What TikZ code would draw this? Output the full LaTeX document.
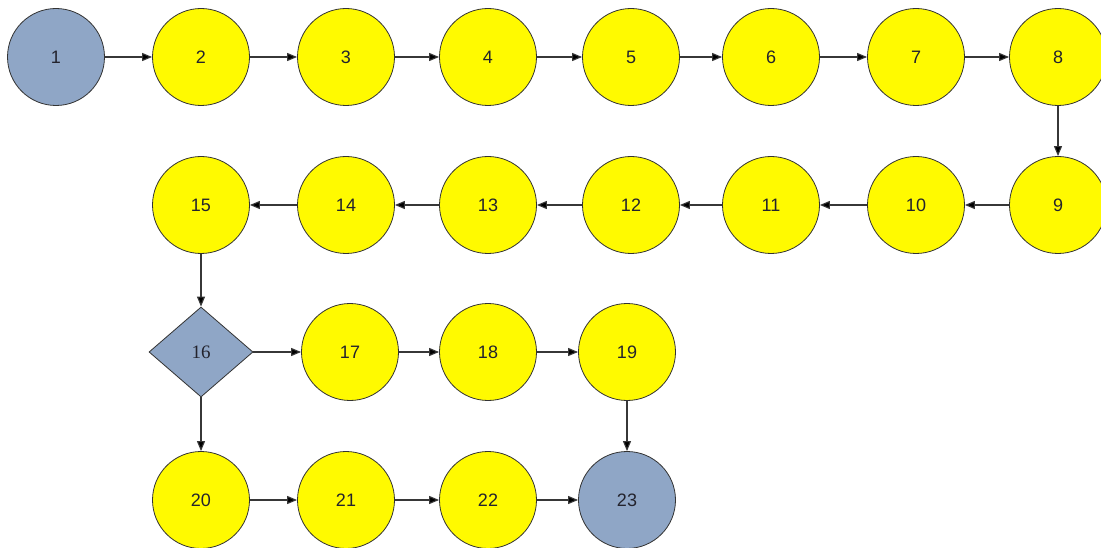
\documentclass[tikz,border=0pt]{standalone}
\usepackage{fontspec}
\setmainfont{Liberation Sans}
\newfontfamily\serifnum{Liberation Serif}
\usetikzlibrary{shapes.geometric,arrows.meta}
\definecolor{yel}{RGB}{255,250,0}
\definecolor{gblue}{RGB}{143,166,198}
\definecolor{linec}{RGB}{55,55,55}
\definecolor{txt}{RGB}{35,35,45}
\begin{document}
\begin{tikzpicture}[x=1pt,y=-1pt,
  yc/.style={circle,draw=black!80,line width=0.8pt,fill=yel,minimum size=97pt,inner sep=0pt,text=txt,font=\fontsize{18}{20}\selectfont},
  bc/.style={yc,fill=gblue},
  dm/.style={diamond,draw=black!80,line width=0.8pt,fill=gblue,minimum width=104pt,minimum height=90pt,inner sep=0pt,aspect=1.15,text=txt,font=\serifnum\fontsize{19}{21}\selectfont},
  ar/.style={draw=linec,line width=1.1pt,-{Stealth[length=10pt,width=8pt,inset=0pt,fill=black]}}]
\useasboundingbox (0,0) rectangle (1101,548);
\fill[white] (0,0) rectangle (1101,548);
\node[bc] (n1) at (56,57) {1};
\node[yc] (n2) at (201,57) {2};
\node[yc] (n3) at (346,57) {3};
\node[yc] (n4) at (488,57) {4};
\node[yc] (n5) at (631,57) {5};
\node[yc] (n6) at (771,57) {6};
\node[yc] (n7) at (916,57) {7};
\node[yc] (n8) at (1058,57) {8};
\node[yc] (n9) at (1058,205) {9};
\node[yc] (n10) at (916,205) {10};
\node[yc] (n11) at (771,205) {11};
\node[yc] (n12) at (631,205) {12};
\node[yc] (n13) at (488,205) {13};
\node[yc] (n14) at (346,205) {14};
\node[yc] (n15) at (201,205) {15};
\node[dm] (n16) at (201,352) {16};
\node[yc] (n17) at (350,352) {17};
\node[yc] (n18) at (488,352) {18};
\node[yc] (n19) at (627,352) {19};
\node[yc] (n20) at (201,500) {20};
\node[yc] (n21) at (346,500) {21};
\node[yc] (n22) at (488,500) {22};
\node[bc] (n23) at (627,500) {23};
\foreach \a/\b in {n1/n2,n2/n3,n3/n4,n4/n5,n5/n6,n6/n7,n7/n8,n8/n9,n9/n10,n10/n11,n11/n12,n12/n13,n13/n14,n14/n15,n15/n16,n16/n17,n17/n18,n18/n19,n19/n23,n16/n20,n20/n21,n21/n22,n22/n23}
  \draw[ar] (\a) -- (\b);
\end{tikzpicture}
\end{document}
